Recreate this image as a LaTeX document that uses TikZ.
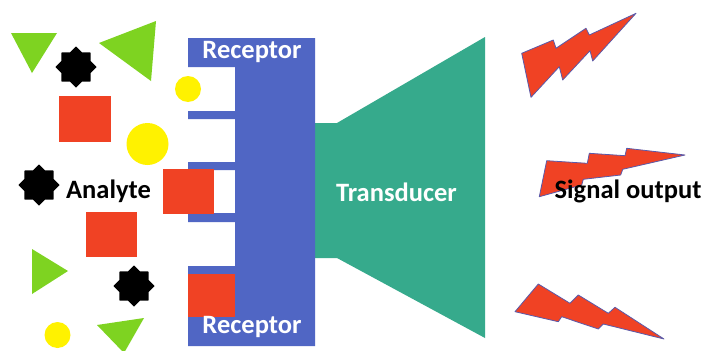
\documentclass[tikz,border=0pt]{standalone}
\usepackage{fontspec}
\setmainfont{Carlito}
\definecolor{recblue}{RGB}{80,102,196}
\definecolor{transgreen}{RGB}{54,170,140}
\definecolor{sqred}{RGB}{240,66,36}
\definecolor{trigreen}{RGB}{126,211,33}
\definecolor{boltedge}{RGB}{90,90,170}
\tikzset{
  label/.style={font=\fontsize{26.5}{30}\selectfont\bfseries, inner sep=0pt},
  bolt/.style={fill=sqred, draw=boltedge, line width=0.8pt, line join=round},
  sq/.style={fill=sqred},
  tri/.style={fill=trigreen},
  dot/.style={fill=yellow},
  blackstar/.pic={\fill[black] (90:20.5)
      \foreach \i in {1,...,15}{ -- ({90+\i*22.5}:{mod(\i,2)==1 ? 15.8 : 20.5})} -- cycle;}
}
\begin{document}
\begin{tikzpicture}[x=1pt,y=-1pt]
\useasboundingbox (0,0) rectangle (705,351);
\fill[white] (0,0) rectangle (705,351);

% transducer: neck plus flared horn
\fill[transgreen] (313,123) -- (337,123) -- (485,37) -- (485,338) -- (337,258) -- (313,258) -- cycle;

% receptor: block with a comb of binding pockets on its left side
\fill[recblue] (188,38) -- (315,38) -- (315,346) -- (188,346)
  -- (188,317) -- (235,317) -- (235,274) -- (188,274)
  -- (188,266) -- (235,266) -- (235,222) -- (188,222)
  -- (188,213) -- (235,213) -- (235,170) -- (188,170)
  -- (188,162) -- (235,162) -- (235,119) -- (188,119)
  -- (188,111) -- (235,111) -- (235,67) -- (188,67) -- cycle;

% analytes: circles
\fill[dot] (188,89) circle (13);
\fill[dot] (147.5,144) circle (21);
\fill[dot] (57.5,335) circle (13);

% analytes: squares
\fill[sq] (59,96) rectangle (111,142);
\fill[sq] (86,212) rectangle (137,257);
\fill[sq] (163,169) rectangle (214,214);
\fill[sq] (188,274) rectangle (235,317);

% analytes: triangles
\fill[tri] (11,33) -- (57,33) -- (32,73) -- cycle;
\fill[tri] (99,43) -- (156,21) -- (151,81) -- cycle;
\fill[tri] (32,249) -- (68,271) -- (32,294) -- cycle;
\fill[tri] (97,325) -- (144,318) -- (124,353) -- cycle;

% analytes: eight-point stars
\pic at (76,67) {blackstar};
\pic at (39,185) {blackstar};
\pic at (134,286) {blackstar};

% signal bolts
\filldraw[bolt] (521.7,53.3) -- (553.3,40) -- (556,48.3) -- (586,28.3) -- (589.3,35) -- (636,13.3)
  -- (592.7,61) -- (590,50.7) -- (562.7,80) -- (559.3,66.7) -- (531,97.3) -- cycle;
\filldraw[bolt] (539.3,196.7) -- (546.7,160.7) -- (587.3,163.3) -- (589.3,153.3) -- (625,155.7) -- (626.7,148.3) -- (685,155)
  -- (622.7,169.3) -- (620.7,175) -- (583.3,179.3) -- (581.7,185) -- cycle;
\filldraw[bolt] (515,311.7) -- (538.3,284) -- (570,303.3) -- (578.3,295) -- (608.3,313.3) -- (615,307.3) -- (664,339)
  -- (603.3,324) -- (598.3,329) -- (561.7,316.7) -- (558.3,321.7) -- cycle;

% labels
\node[label, text=white] (rectop) at (252,52) {Receptor};
\node[label, text=white] (recbot) at (252,327) {Receptor};
\node[label, text=white] (trans) at (396.5,192) {Transducer};
\node[label] (analyte) at (108.5,191) {Analyte};
\node[label] (signal) at (628,191) {Signal output};
\end{tikzpicture}
\end{document}
